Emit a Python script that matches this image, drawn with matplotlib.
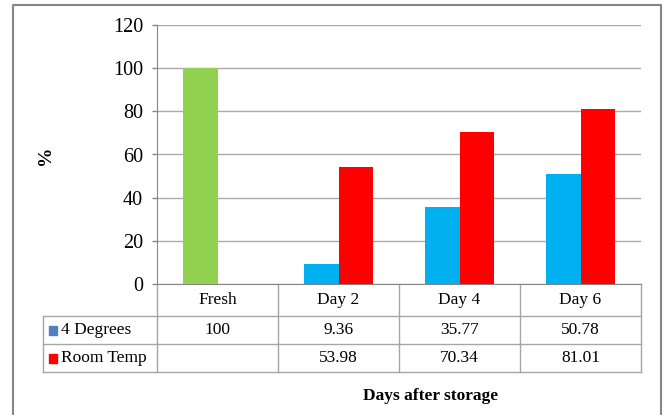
import matplotlib.pyplot as plt
import matplotlib.transforms as mtransforms
from matplotlib.lines import Line2D
from matplotlib.patches import Rectangle

categories = ['Fresh', 'Day 2', 'Day 4', 'Day 6']
four_deg = [100, 9.36, 35.77, 50.78]
room_temp = [None, 53.98, 70.34, 81.01]
series_names = ['4 Degrees', 'Room Temp']
yticks = [0, 20, 40, 60, 80, 100, 120]

plt.rcParams['font.family'] = ['Liberation Serif', 'DejaVu Serif']

W, H = 664, 415
fig = plt.figure(figsize=(W / 100, H / 100), dpi=100)
fig.patch.set_facecolor('white')

# plot area in pixel terms
left, right, top, bottom = 157, 641, 25, 284
ax = fig.add_axes([left / W, 1 - bottom / H, (right - left) / W, (bottom - top) / H])

x = list(range(len(categories)))
w = 0.286
blue_cols = ['#92D050'] + ['#00B0F0'] * (len(categories) - 1)
ax.bar([i - w / 2 for i in x], four_deg, width=w, color=blue_cols, zorder=3)
rt_x = [i + w / 2 for i, v in zip(x, room_temp) if v is not None]
rt_v = [v for v in room_temp if v is not None]
ax.bar(rt_x, rt_v, width=w, color='#FF0000', zorder=3)

ax.set_xlim(-0.5, len(categories) - 0.5)
ax.set_ylim(0, 120)
ax.set_yticks(yticks)
ax.set_xticks([])
ax.yaxis.grid(True, color='#ABABAB', linewidth=1.0, zorder=0)
ax.tick_params(axis='y', length=3.6, width=1, color='#868686', labelsize=14.5, pad=6.5)
for s in ['top', 'right']:
    ax.spines[s].set_visible(False)
ax.spines['left'].set_color('#868686')
ax.spines['bottom'].set_color('#868686')

# data table under the axis: x in category units, y in axes fraction
tr = mtransforms.blended_transform_factory(ax.transData, ax.transAxes)
ph = bottom - top
def ay(py):
    return (bottom - py) / ph

row_y = [284, 316, 344.3, 372.3]
xl = (43 - left) / ((right - left) / len(categories)) - 0.5
xr = len(categories) - 0.5
line_kw = dict(transform=tr, clip_on=False, color='#A6A6A6', linewidth=1.0)

for py in row_y[1:]:
    ax.add_line(Line2D([xl, xr], [ay(py)] * 2, **line_kw))
for b in [-0.5 + k for k in range(len(categories) + 1)]:
    ax.add_line(Line2D([b, b], [ay(row_y[0]), ay(row_y[-1])], **line_kw))
ax.add_line(Line2D([xl, xl], [ay(row_y[1]), ay(row_y[-1])], **line_kw))

txt_kw = dict(transform=tr, ha='center', va='center', fontsize=12.5, clip_on=False)
for i, c in enumerate(categories):
    ax.text(i, ay((row_y[0] + row_y[1]) / 2), c, **txt_kw)
for r, vals in enumerate([four_deg, room_temp]):
    yc = ay((row_y[r + 1] + row_y[r + 2]) / 2)
    for i, v in enumerate(vals):
        if v is not None:
            ax.text(i, yc, f'{v:g}', **txt_kw)

# legend keys in the first column
key_cols = ['#4F81BD', '#FF0000']
for r, (name, kc) in enumerate(zip(series_names, key_cols)):
    yc = (row_y[r + 1] + row_y[r + 2]) / 2
    fig.add_artist(Rectangle((49 / W, 1 - (yc + 4.5) / H), 8.5 / W, 8.5 / H,
                             transform=fig.transFigure, color=kc))
    fig.text(61 / W, 1 - yc / H, name, ha='left', va='center', fontsize=12.5)

fig.text(46 / W, 1 - 155 / H, '%', rotation=90, ha='center', va='center',
         fontsize=14, fontweight='bold')
fig.text(431 / W, 1 - 396 / H, 'Days after storage', ha='center', va='center',
         fontsize=12.5, fontweight='bold')

# chart frame (open at the bottom edge)
fig.add_artist(Line2D([12.5 / W, 12.5 / W, 660.5 / W, 660.5 / W],
                      [0, 1 - 5.5 / H, 1 - 5.5 / H, 0],
                      transform=fig.transFigure, color='#868686', linewidth=1.5))

fig.savefig('out.png', dpi=100, facecolor='white')
